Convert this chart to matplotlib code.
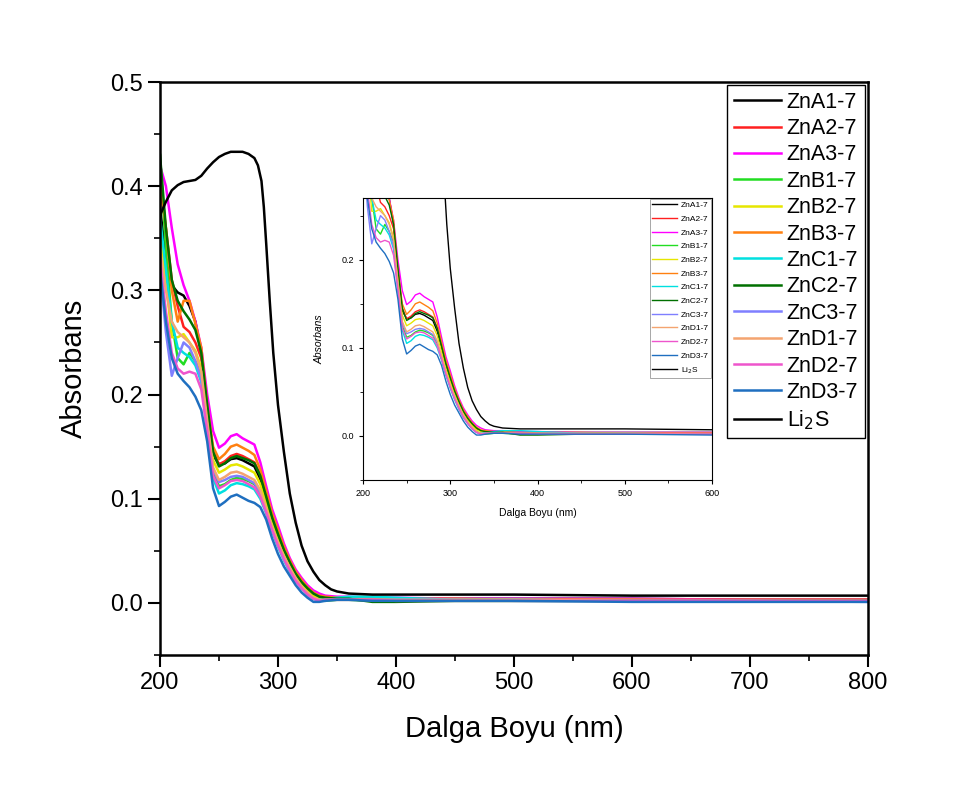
import numpy as np
import matplotlib
matplotlib.use('Agg')
import matplotlib.pyplot as plt
from matplotlib.ticker import MultipleLocator

plt.rcParams['font.family'] = ['Liberation Sans', 'DejaVu Sans']

# Wavelength grid (nm) shared by the Zn samples
wl = [200, 205, 210, 215, 220, 225, 230, 235, 240, 245, 250, 255, 260, 265, 270,
      275, 280, 285, 290, 295, 300, 305, 310, 315, 320, 325, 330, 335, 340,
      350, 360, 380, 400, 450, 500, 600, 700, 800]

# Absorbance
znA1 = [0.380, 0.330, 0.305, 0.298, 0.295, 0.285, 0.270, 0.240, 0.185, 0.142, 0.133, 0.134, 0.138, 0.139, 0.137,
        0.134, 0.131, 0.119, 0.100, 0.080, 0.064, 0.050, 0.038, 0.027, 0.019, 0.013, 0.008, 0.006, 0.005,
        0.005, 0.005, 0.005, 0.004, 0.004, 0.004, 0.004, 0.003, 0.003]
znA2 = [0.400, 0.360, 0.310, 0.285, 0.265, 0.260, 0.250, 0.235, 0.190, 0.145, 0.133, 0.136, 0.141, 0.143, 0.141,
        0.138, 0.135, 0.123, 0.103, 0.083, 0.067, 0.052, 0.039, 0.029, 0.021, 0.014, 0.009, 0.006, 0.005,
        0.005, 0.004, 0.004, 0.004, 0.003, 0.003, 0.003, 0.003, 0.003]
znA3 = [0.420, 0.400, 0.360, 0.325, 0.305, 0.290, 0.270, 0.245, 0.200, 0.165, 0.149, 0.153, 0.160, 0.162, 0.158,
        0.155, 0.152, 0.135, 0.112, 0.090, 0.074, 0.057, 0.043, 0.032, 0.024, 0.017, 0.012, 0.009, 0.007,
        0.006, 0.006, 0.005, 0.005, 0.004, 0.004, 0.004, 0.003, 0.003]
znB1 = [0.430, 0.340, 0.270, 0.235, 0.229, 0.240, 0.232, 0.220, 0.170, 0.125, 0.112, 0.114, 0.118, 0.120, 0.119,
        0.117, 0.114, 0.105, 0.088, 0.070, 0.056, 0.043, 0.032, 0.022, 0.015, 0.009, 0.005, 0.003, 0.002,
        0.003, 0.003, 0.002, 0.002, 0.002, 0.002, 0.002, 0.002, 0.002]
znB2 = [0.360, 0.310, 0.255, 0.255, 0.258, 0.250, 0.242, 0.225, 0.180, 0.137, 0.125, 0.128, 0.132, 0.133, 0.131,
        0.128, 0.125, 0.114, 0.096, 0.077, 0.062, 0.048, 0.036, 0.026, 0.018, 0.012, 0.007, 0.005, 0.004,
        0.004, 0.004, 0.003, 0.003, 0.003, 0.003, 0.003, 0.002, 0.002]
znB3 = [0.410, 0.360, 0.300, 0.270, 0.290, 0.290, 0.268, 0.245, 0.190, 0.150, 0.138, 0.143, 0.150, 0.152, 0.149,
        0.146, 0.142, 0.128, 0.107, 0.086, 0.070, 0.054, 0.041, 0.030, 0.022, 0.015, 0.010, 0.007, 0.006,
        0.005, 0.005, 0.004, 0.004, 0.004, 0.003, 0.003, 0.003, 0.003]
znC1 = [0.370, 0.320, 0.270, 0.245, 0.240, 0.236, 0.228, 0.212, 0.165, 0.120, 0.105, 0.108, 0.113, 0.115, 0.114,
        0.112, 0.109, 0.100, 0.086, 0.069, 0.054, 0.041, 0.030, 0.021, 0.014, 0.008, 0.004, 0.003, 0.004,
        0.005, 0.006, 0.006, 0.005, 0.003, 0.003, 0.002, 0.002, 0.002]
znC2 = [0.430, 0.360, 0.310, 0.290, 0.280, 0.272, 0.262, 0.240, 0.190, 0.145, 0.131, 0.134, 0.139, 0.141, 0.139,
        0.137, 0.134, 0.122, 0.102, 0.082, 0.066, 0.051, 0.039, 0.028, 0.020, 0.014, 0.009, 0.006, 0.005,
        0.004, 0.004, 0.001, 0.001, 0.002, 0.002, 0.002, 0.002, 0.002]
znC3 = [0.320, 0.260, 0.218, 0.235, 0.250, 0.245, 0.232, 0.215, 0.170, 0.128, 0.116, 0.118, 0.121, 0.122, 0.121,
        0.118, 0.115, 0.106, 0.089, 0.071, 0.056, 0.043, 0.032, 0.022, 0.015, 0.009, 0.004, 0.002, 0.003,
        0.003, 0.003, 0.003, 0.003, 0.003, 0.002, 0.002, 0.002, 0.001]
znD1 = [0.340, 0.300, 0.270, 0.260, 0.255, 0.250, 0.240, 0.222, 0.175, 0.130, 0.118, 0.121, 0.125, 0.126, 0.124,
        0.121, 0.118, 0.108, 0.091, 0.073, 0.058, 0.045, 0.034, 0.024, 0.016, 0.010, 0.005, 0.003, 0.003,
        0.003, 0.003, 0.003, 0.003, 0.003, 0.003, 0.002, 0.002, 0.002]
znD2 = [0.330, 0.280, 0.240, 0.225, 0.220, 0.222, 0.220, 0.205, 0.165, 0.122, 0.110, 0.113, 0.117, 0.118, 0.117,
        0.114, 0.111, 0.102, 0.087, 0.070, 0.055, 0.042, 0.031, 0.021, 0.014, 0.008, 0.004, 0.002, 0.003,
        0.003, 0.003, 0.003, 0.002, 0.002, 0.002, 0.002, 0.002, 0.002]
znD3 = [0.320, 0.270, 0.235, 0.220, 0.213, 0.207, 0.198, 0.185, 0.155, 0.110, 0.093, 0.097, 0.102, 0.104, 0.101,
        0.098, 0.096, 0.092, 0.080, 0.062, 0.047, 0.035, 0.026, 0.017, 0.010, 0.005, 0.001, 0.001, 0.002,
        0.003, 0.003, 0.002, 0.002, 0.002, 0.002, 0.001, 0.001, 0.001]

wl_li2s = [200, 205, 210, 215, 220, 225, 230, 235, 240, 245, 250, 255, 260, 265, 270, 275, 280, 283,
           286, 288, 290, 293, 296, 300, 305, 310, 315, 320, 325, 330, 335, 340, 345, 350, 360,
           380, 400, 500, 600, 700, 800]
li2s = [0.372, 0.385, 0.396, 0.401, 0.404, 0.405, 0.406, 0.410, 0.417, 0.423, 0.428, 0.431, 0.433, 0.433,
        0.433, 0.431, 0.427, 0.420, 0.405, 0.380, 0.345, 0.290, 0.240, 0.190, 0.145, 0.105, 0.077, 0.055,
        0.040, 0.030, 0.022, 0.017, 0.013, 0.011, 0.009, 0.008, 0.008, 0.008, 0.007, 0.007, 0.007]

labels = ['ZnA1-7', 'ZnA2-7', 'ZnA3-7', 'ZnB1-7', 'ZnB2-7', 'ZnB3-7', 'ZnC1-7', 'ZnC2-7',
          'ZnC3-7', 'ZnD1-7', 'ZnD2-7', 'ZnD3-7']
series = [znA1, znA2, znA3, znB1, znB2, znB3, znC1, znC2, znC3, znD1, znD2, znD3]
colors = ['#000000', '#ff2020', '#ff00ff', '#22dd22', '#e6e600', '#ff8010', '#00e0e0', '#007000',
          '#7f7fff', '#f4a470', '#ee55cc', '#1f6fc0']

fig = plt.figure(figsize=(9.72, 7.87), dpi=100)
ax = fig.add_axes([0.1646, 0.1677, 0.7284, 0.7281])

for y, c, lab in zip(series, colors, labels):
    ax.plot(wl, y, color=c, lw=1.8, label=lab)
ax.plot(wl_li2s, li2s, color='black', lw=1.8, label='Li$_2$S')

ax.set_xlim(200, 800)
ax.set_ylim(-0.05, 0.5)
ax.xaxis.set_major_locator(MultipleLocator(100))
ax.xaxis.set_minor_locator(MultipleLocator(50))
ax.yaxis.set_major_locator(MultipleLocator(0.1))
ax.yaxis.set_minor_locator(MultipleLocator(0.05))
ax.yaxis.set_major_formatter(plt.FormatStrFormatter('%.1f'))
ax.tick_params(which='major', direction='out', length=8.5, width=1.5, labelsize=17)
ax.tick_params(which='minor', direction='out', length=4.5, width=1.2)
for s in ax.spines.values():
    s.set_linewidth(1.8)
ax.set_xlabel('Dalga Boyu (nm)', fontsize=21, labelpad=15)
ax.set_ylabel('Absorbans', fontsize=21, labelpad=16)

leg = ax.legend(loc='upper right', fontsize=15.5, handlelength=2.2, handletextpad=0.25,
                labelspacing=0.25, borderaxespad=0.15, borderpad=0.3, fancybox=False,
                edgecolor='black', framealpha=1)
leg.get_frame().set_linewidth(1.0)

# inset
ins = fig.add_axes([0.3735, 0.3901, 0.359, 0.3583])
for y, c, lab in zip(series, colors, labels):
    ins.plot(wl, y, color=c, lw=1.0, label=lab)
ins.plot(wl_li2s, li2s, color='black', lw=1.0, label='Li$_2$S')
ins.set_xlim(200, 600)
ins.set_ylim(-0.05, 0.27)
ins.xaxis.set_major_locator(MultipleLocator(100))
ins.xaxis.set_minor_locator(MultipleLocator(50))
ins.yaxis.set_major_locator(MultipleLocator(0.1))
ins.yaxis.set_minor_locator(MultipleLocator(0.05))
ins.yaxis.set_major_formatter(plt.FormatStrFormatter('%.1f'))
ins.tick_params(which='major', direction='out', length=3, width=0.8, labelsize=6.5)
ins.tick_params(which='minor', direction='out', length=2, width=0.6)
ins.set_xlabel('Dalga Boyu (nm)', fontsize=7.5, labelpad=7)
ins.set_ylabel('Absorbans', fontsize=7.5, style='italic', labelpad=12)
il = ins.legend(loc='upper right', fontsize=6, handlelength=3.0, handletextpad=0.4,
                labelspacing=0.7, borderaxespad=0.1, borderpad=0.3, fancybox=False,
                edgecolor='#999999', framealpha=1)
il.get_frame().set_linewidth(0.6)

fig.savefig('out.png', dpi=100)
